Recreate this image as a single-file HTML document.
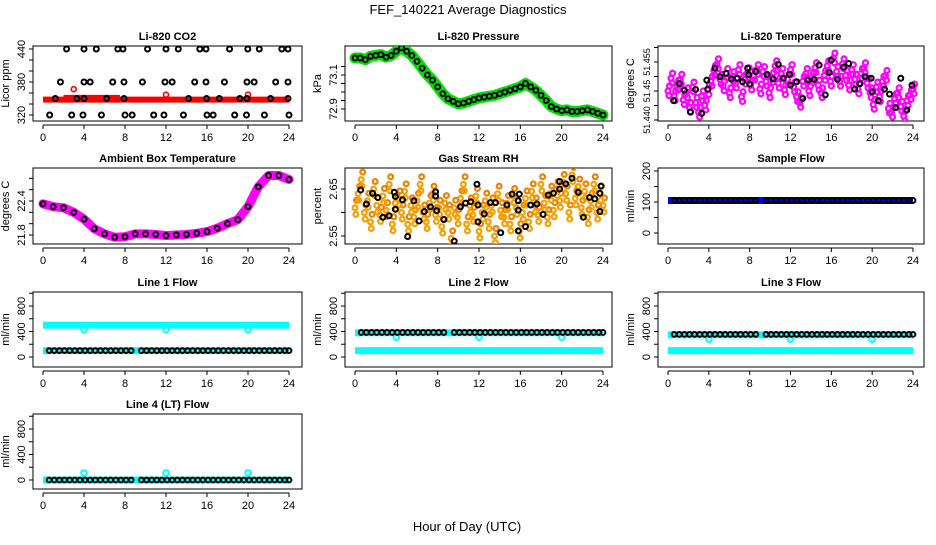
<!DOCTYPE html>
<html><head><meta charset="utf-8"><title>FEF_140221 Average Diagnostics</title>
<style>body{margin:0;background:#fff}svg text{font-family:"Liberation Sans",Arial,sans-serif}</style></head>
<body>
<svg id="chart" width="936" height="540" viewBox="0 0 936 540" xmlns="http://www.w3.org/2000/svg">
<text x="468" y="14" text-anchor="middle" font-size="13">FEF_140221  Average Diagnostics</text>
<text x="467" y="531" text-anchor="middle" font-size="13">Hour of Day (UTC)</text>
</svg>
<script>
// ---- data ----
const xTicks=[0,4,8,12,16,20,24];
const co2Hours=[2.3,4.0,5.2,7.3,7.8,10.2,12.0,13.2,15.3,15.9,18.2,19.98,21.1,23.3,23.9,1.7,4.0,4.6,6.8,7.9,9.7,11.9,12.6,14.8,15.9,17.7,19.9,20.6,22.7,23.9,1.2,3.3,4.0,6.2,7.9,14.2,15.96,17.2,19.2,19.9,22.2,23.9,0.65,2.8,3.9,5.7,8.0,8.7,10.8,11.8,13.7,16.0,16.6,18.7,19.85,21.6,24.0];
const co2Vals=[440,440,440,440,440,440,440,440,440,440,440,440,440,440,440,380,380,380,380,380,380,380,380,380,380,380,380,380,380,380,350,350,350,350,350,350,350,350,350,350,350,350,320,320,320,320,320,320,320,320,320,320,320,320,320,320,320];
const co2RedLevel=[348];
const co2RedOutHours=[3.0,12.0,20.0];
const co2RedOutVals=[367,357,357];
const presHours=[0,0.5,1,1.5,2,2.5,3,3.5,4,4.5,5,5.5,6,6.5,7,7.5,8,8.5,9,9.5,10,10.5,11,11.5,12,12.5,13,13.5,14,14.5,15,15.5,16,16.5,17,17.5,18,18.5,19,19.5,20,20.5,21,21.5,22,22.5,23,23.5,24];
const presVals=[73.20,73.20,73.19,73.21,73.215,73.22,73.205,73.215,73.24,73.26,73.24,73.215,73.18,73.14,73.10,73.07,73.03,72.99,72.96,72.945,72.93,72.935,72.945,72.955,72.965,72.97,72.975,72.98,72.99,73.0,73.01,73.02,73.03,73.05,73.03,73.01,72.98,72.95,72.915,72.9,72.89,72.895,72.885,72.885,72.89,72.895,72.885,72.875,72.865];
const tempBlackHours=[0.55,1.1,1.6,2.7,2.2,3.3,3.8,3.9,4.6,5.1,5.7,6.2,6.8,7.3,7.8,7.9,8.0,8.6,9.7,10.3,10.8,11.3,11.9,12.0,12.6,13.2,13.7,14.3,14.8,15.4,15.8,16.0,16.6,17.2,17.7,18.3,18.8,19.3,19.9,20.0,20.6,21.2,21.7,22.3,22.8,23.4,23.9];
const tempBlackVals=[51.445,51.4494,51.4477,51.4479,51.4421,51.4417,51.4503,51.448,51.4534,51.4512,51.4521,51.4506,51.4508,51.4499,51.4534,51.4517,51.4493,51.4525,51.4518,51.4506,51.4544,51.4508,51.4518,51.449,51.4499,51.4456,51.4503,51.4505,51.4542,51.4465,51.4523,51.4555,51.4505,51.4537,51.4546,51.448,51.4494,51.4512,51.4508,51.4473,51.445,51.448,51.4467,51.4432,51.4508,51.4426,51.449];
const cloudHours=[0,0.3,0.6,0.9,1.2,1.5,1.8,2.1,2.4,2.7,3.0,3.3,3.6,3.9,4.2,4.5,4.8,5.1,5.4,5.7,6.0,6.3,6.6,6.9,7.2,7.5,7.8,8.1,8.4,8.7,9.0,9.3,9.6,9.9,10.2,10.5,10.8,11.1,11.4,11.7,12.0,12.3,12.6,12.9,13.2,13.5,13.8,14.1,14.4,14.7,15.0,15.3,15.6,15.9,16.2,16.5,16.8,17.1,17.4,17.7,18.0,18.3,18.6,18.9,19.2,19.5,19.8,20.1,20.4,20.7,21.0,21.3,21.6,21.9,22.2,22.5,22.8,23.1,23.4,23.7,24.0];
const tempMagVals=[51.4475,51.4508,51.4462,51.4490,51.4505,51.4452,51.4470,51.4432,51.4485,51.4445,51.4420,51.4462,51.4438,51.4478,51.4500,51.4528,51.4545,51.4505,51.4488,51.4520,51.4470,51.4512,51.4495,51.4530,51.4460,51.4505,51.4522,51.4490,51.4515,51.4530,51.4480,51.4525,51.4500,51.4470,51.4510,51.4540,51.4495,51.4520,51.4478,51.4505,51.4530,51.4485,51.4460,51.4445,51.4500,51.4520,51.4475,51.4510,51.4535,51.4490,51.4470,51.4515,51.4540,51.4500,51.4560,51.4525,51.4500,51.4545,51.4515,51.4490,51.4530,51.4505,51.4480,51.4520,51.4535,51.4495,51.4470,51.4440,51.4485,51.4460,51.4500,51.4515,51.4430,51.4420,51.4455,51.4470,51.4435,51.4410,51.4450,51.4465,51.4480];
const ambHours=[0,1,2,3,4,5,6,7,8,9,10,11,12,13,14,15,16,17,18,19,20,21,22,23,24];
const ambVals=[22.35,22.3,22.28,22.2,22.08,21.91,21.82,21.76,21.77,21.82,21.82,21.81,21.79,21.80,21.81,21.83,21.86,21.92,22.0,22.07,22.3,22.65,22.85,22.85,22.78];
const rhBlackHours=[0.55,1.1,1.7,2.2,2.7,3.3,3.8,3.9,3.9,4.6,5.1,5.7,6.2,6.7,7.3,7.8,7.8,7.9,8.6,9.6,10.2,10.7,11.2,11.8,11.9,11.9,12.5,13.1,13.6,14.1,14.7,15.2,15.8,15.8,15.8,15.9,16.5,17.0,17.6,18.2,18.7,19.2,19.8,19.8,20.4,21.0,21.6,22.1,22.7,23.2,23.7,23.7,23.8];
const rhBlackVals=[2.648,2.618,2.641,2.632,2.590,2.593,2.643,2.634,2.607,2.627,2.549,2.625,2.582,2.602,2.612,2.644,2.635,2.604,2.585,2.539,2.612,2.62,2.623,2.66,2.616,2.580,2.597,2.621,2.621,2.557,2.616,2.639,2.625,2.605,2.561,2.639,2.57,2.616,2.618,2.596,2.637,2.641,2.65,2.666,2.661,2.673,2.643,2.590,2.632,2.629,2.641,2.602,2.656];
const rhCloudVals=[2.610,2.640,2.670,2.600,2.625,2.580,2.650,2.615,2.595,2.635,2.605,2.660,2.575,2.620,2.630,2.600,2.645,2.575,2.615,2.590,2.625,2.660,2.600,2.580,2.620,2.640,2.595,2.610,2.570,2.620,2.600,2.545,2.610,2.590,2.630,2.660,2.575,2.615,2.595,2.635,2.560,2.600,2.625,2.580,2.615,2.550,2.640,2.605,2.590,2.620,2.575,2.635,2.610,2.560,2.600,2.630,2.580,2.645,2.615,2.595,2.660,2.620,2.590,2.640,2.605,2.650,2.625,2.665,2.640,2.600,2.680,2.630,2.655,2.610,2.645,2.590,2.625,2.660,2.600,2.640,2.615];
const flowHours=[0.6,1.1,1.6,2.1,2.6,3.1,3.6,4.1,4.6,5.1,5.6,6.1,6.6,7.1,7.6,8.1,8.6,9.6,10.1,10.6,11.1,11.6,12.1,12.6,13.1,13.6,14.1,14.6,15.1,15.6,16.1,16.6,17.1,17.6,18.1,18.6,19.1,19.6,20.1,20.6,21.1,21.6,22.1,22.6,23.1,23.6,24.0];
const dipHours=[4,12,20];
const sampleLevel=[105];
const line1Cyan=[500,100], line1Black=[100], line1Dip=[430];
const line2Cyan=[380,100], line2Black=[385], line2Dip=[310];
const line3Cyan=[350,100], line3Black=[355], line3Dip=[280];
const line4Cyan=[0], line4Black=[0], line4Dip=[110];

// ---- layout ----
const NS="http://www.w3.org/2000/svg";
const svg=document.getElementById('chart');
const colL=[33,345,658], colR=[302,612,924], colX0=[43,355,668], colX24=[289,603,913];
const rowT=[46,168,292,414], rowB=[121,244,367,489];
function mk(tag,attrs,parent){const e=document.createElementNS(NS,tag);for(const k in attrs)e.setAttribute(k,attrs[k]);(parent||svg).appendChild(e);return e;}

function panel(o){
  const g=mk('g',{});
  
  
  const L=colL[o.c],R=colR[o.c],T=rowT[o.r],B=rowB[o.r];
  const xs=h=>colX0[o.c]+(colX24[o.c]-colX0[o.c])*h/24;
  const ys=v=>o.p1+(v-o.v1)*(o.p2-o.p1)/(o.v2-o.v1);
  const t=mk('text',{x:(L+R)/2,y:T-6,'text-anchor':'middle','font-size':11,'font-weight':'bold'},g);
  t.textContent=o.title;
  
  
  const box=mk('rect',{x:L,y:T,width:R-L,height:B-T,fill:'none',stroke:'#000','stroke-width':1},g);
  
  
  const xa=mk('g',{},g);
  
  
  mk('line',{x1:xs(0),x2:xs(24),y1:B+4,y2:B+4,stroke:'#000'},xa);
  xTicks.forEach(h=>{mk('line',{x1:xs(h),x2:xs(h),y1:B+4,y2:B+8,stroke:'#000'},xa);
    const l=mk('text',{x:xs(h),y:B+20,'text-anchor':'middle','font-size':11},xa);l.textContent=h;});
  const ya=mk('g',{},g);
  
  
  const tp=o.ticks.map(ys);
  const fs=o.fs||11;
  mk('line',{x1:L,x2:L,y1:Math.min(...tp),y2:Math.max(...tp),stroke:'#000'},ya);
  o.ticks.forEach((v,i)=>{const y=ys(v);mk('line',{x1:L-4,x2:L,y1:y,y2:y,stroke:'#000'},ya);
    if(o.labels[i]){const l=mk('text',{x:L-8,y:y,'text-anchor':'middle','font-size':fs,transform:`rotate(-90 ${L-8} ${y})`},ya);l.textContent=o.labels[i];}});
  const yt=mk('text',{x:L-24,y:(T+B)/2,'text-anchor':'middle','font-size':11,transform:`rotate(-90 ${L-24} ${(T+B)/2})`},g);
  yt.textContent=o.ytitle;
  
  
  const clip='clip'+o.name;
  const cp=mk('clipPath',{id:clip},g);mk('rect',{x:L,y:T,width:R-L,height:B-T},cp);
  const d=mk('g',{'clip-path':`url(#${clip})`},g);
  
  
  return {xs,ys,d};
}
function band(P,h0,h1,v,col,w,name){const l=mk('line',{x1:P.xs(h0),x2:P.xs(h1),y1:P.ys(v),y2:P.ys(v),stroke:col,'stroke-width':w},P.d);
  
  }
function pts(P,hs,vs,col,r,w,name){hs.forEach((h,i)=>{const c=mk('circle',{cx:P.xs(h),cy:P.ys(vs[i]),r:r,fill:'none',stroke:col,'stroke-width':w},P.d);
  
  });}
function curve(P,hs,vs,col,w,name){const p=mk('polyline',{points:hs.map((h,i)=>P.xs(h)+','+P.ys(vs[i])).join(' '),fill:'none',stroke:col,'stroke-width':w,'stroke-linejoin':'round','stroke-linecap':'round'},P.d);
  
  }

// CO2
let P=panel({name:'co2-panel',c:0,r:0,title:'Li-820 CO2',ytitle:'Licor ppm',v1:440,p1:49,v2:320,p2:115,ticks:[320,340,360,380,400,420,440],labels:['320','','','380','','','440']});
band(P,0,24,co2RedLevel[0],'#ff0000',6,'co2-red-band');
band(P,2,7.5,co2RedLevel[0]+4,'#ff0000',5,'co2-red-band-upper');
pts(P,co2RedOutHours,co2RedOutVals,'#ff0000',2.5,1.6,'co2-red-outlier');
pts(P,co2Hours,co2Vals,'#000',2.5,2,'co2-point');
// Pressure
P=panel({name:'pressure-panel',c:1,r:0,title:'Li-820 Pressure',ytitle:'kPa',v1:73.1,p1:75,v2:72.9,p2:109,ticks:[72.9,72.95,73.0,73.05,73.1,73.15],labels:['72.9','','','','73.1','']});
curve(P,presHours,presVals,'#00e000',11,'pressure-green-band');
pts(P,presHours,presVals,'#000',2.5,2,'pressure-point');
// Li-820 temperature
P=panel({name:'li820-temp-panel',c:2,r:0,title:'Li-820 Temperature',ytitle:'degrees C',fs:9,v1:51.455,p1:62,v2:51.440,p2:120,ticks:[51.440,51.44375,51.4475,51.45125,51.455,51.45875],labels:['51.440','','51.45','','51.455','']});
pts(P,cloudHours,tempMagVals,'#ff00ff',2.5,2.2,'temp-magenta-point');
pts(P,cloudHours.map(h=>h+0.15),tempMagVals.map(v=>v+0.0013),'#ff00ff',2.5,2.2,'temp-magenta-point');
pts(P,cloudHours.map(h=>h+0.1),tempMagVals.map(v=>v-0.0012),'#ff00ff',2.5,2.2,'temp-magenta-point');
pts(P,tempBlackHours,tempBlackVals,'#000',2.5,2,'temp-black-point');
// Ambient
P=panel({name:'ambient-temp-panel',c:0,r:1,title:'Ambient Box Temperature',ytitle:'degrees C',v1:22.4,p1:201,v2:21.8,p2:235,ticks:[21.8,22.0,22.2,22.4,22.6,22.8],labels:['21.8','','','22.4','','']});
curve(P,ambHours,ambVals,'#ff00ff',9,'ambient-magenta-band');
pts(P,ambHours,ambVals,'#000',2.5,2,'ambient-point');
// RH
P=panel({name:'rh-panel',c:1,r:1,title:'Gas Stream RH',ytitle:'percent',v1:2.65,p1:189,v2:2.55,p2:236,ticks:[2.55,2.60,2.65],labels:['2.55','','2.65']});
pts(P,cloudHours,rhCloudVals,'#f5a000',2.4,2.2,'rh-orange-point');
pts(P,cloudHours.map(h=>h+0.15),rhCloudVals.map(v=>v+0.016),'#f08000',2.4,2.2,'rh-orange-point');
pts(P,cloudHours.map(h=>h+0.08),rhCloudVals.map(v=>v-0.014),'#f5a000',2.4,2.2,'rh-orange-point');
pts(P,rhBlackHours,rhBlackVals,'#000',2.5,2,'rh-black-point');
// Sample flow
P=panel({name:'sample-flow-panel',c:2,r:1,title:'Sample Flow',ytitle:'ml/min',v1:200,p1:171,v2:0,p2:233,ticks:[0,50,100,150,200],labels:['0','','100','','200']});
band(P,0,24,sampleLevel[0],'#0000ff',7,'sample-blue-band');
pts(P,flowHours,flowHours.map(()=>sampleLevel[0]),'#000',2.4,2,'sample-point');
// Line flows
const flowTicks=[0,200,400,600,800,1000], flowLabels=['0','','400','','800',''];
function flowPanel(name,c,r,title,cyan,black,dip){
  const p1=r===2?357:480;
  const P=panel({name,c,r,title,ytitle:'ml/min',v1:0,p1:p1,v2:800,p2:p1-51,ticks:flowTicks,labels:flowLabels});
  cyan.forEach(v=>band(P,0,24,v,'#00ffff',7,'cyan-flow-band'));
  pts(P,dipHours,dipHours.map(()=>dip[0]),'#00ffff',2.8,2,'cyan-dip-point');
  pts(P,flowHours,flowHours.map(()=>black[0]),'#000',2.4,2,'flow-point');
}
flowPanel('line1-flow-panel',0,2,'Line 1 Flow',line1Cyan,line1Black,line1Dip);
flowPanel('line2-flow-panel',1,2,'Line 2 Flow',line2Cyan,line2Black,line2Dip);
flowPanel('line3-flow-panel',2,2,'Line 3 Flow',line3Cyan,line3Black,line3Dip);
flowPanel('line4-flow-panel',0,3,'Line 4 (LT) Flow',line4Cyan,line4Black,line4Dip);
</script>
</body></html>
